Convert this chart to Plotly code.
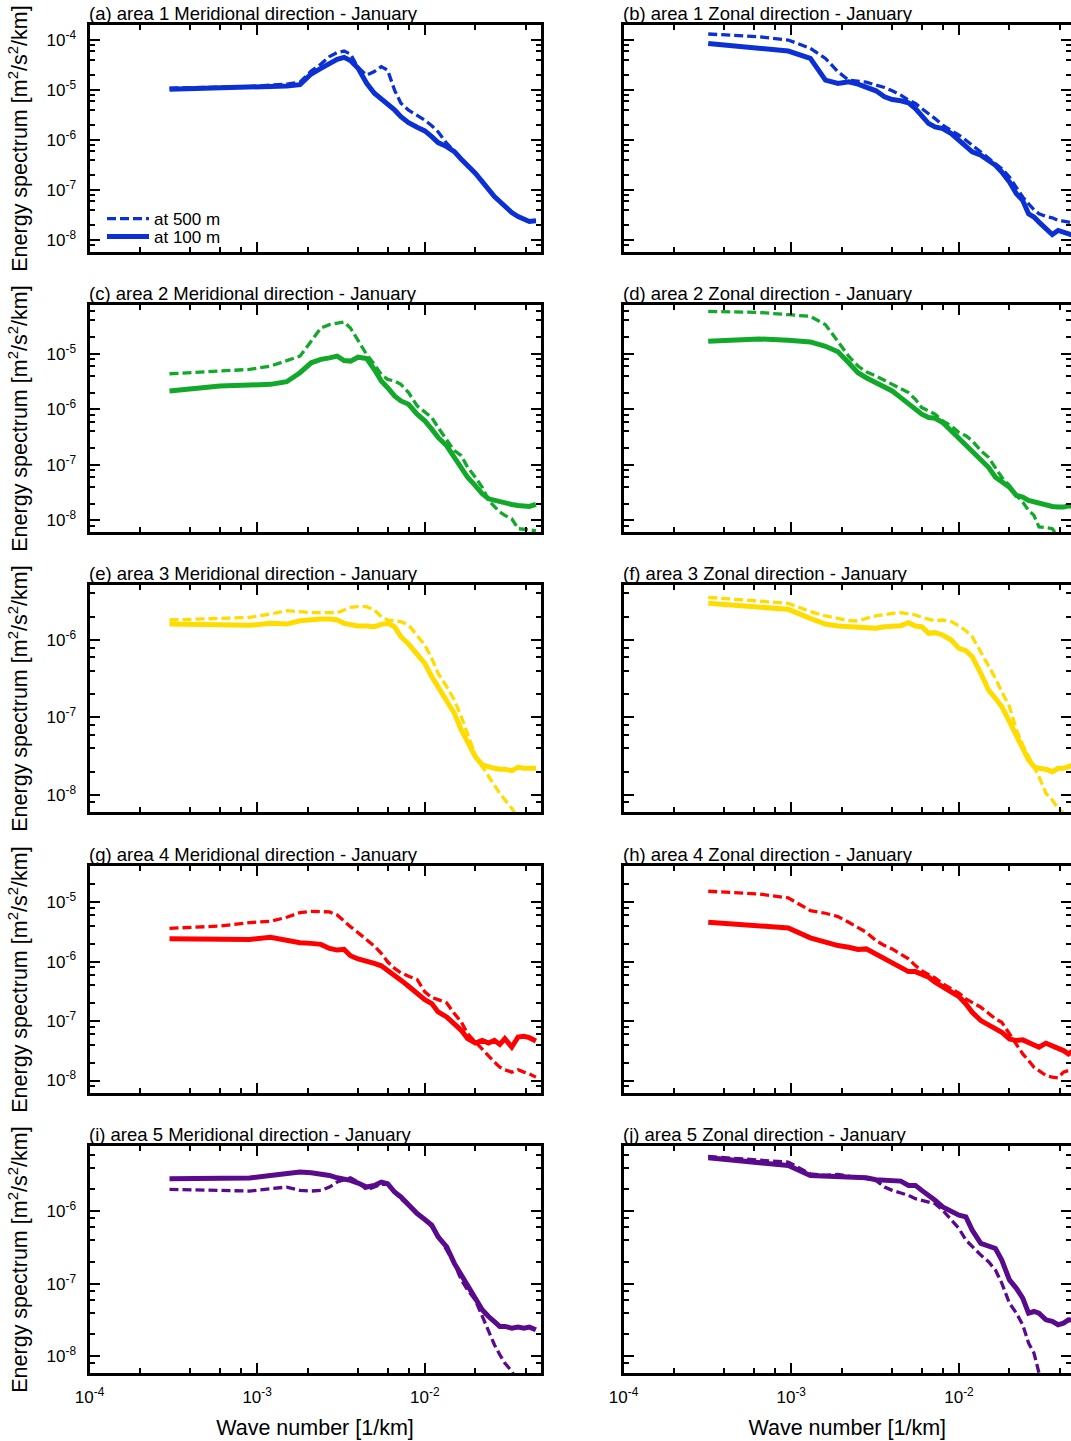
import plotly.graph_objects as go

# ---------------- data (wave number in 1/km, spectra stored as log10 of m^2/s^2/km) -------------
k_meridional = [3.0e-4, 6.0e-4, 9.0e-4, 1.2e-3, 1.5e-3, 1.8e-3, 2.1e-3, 2.4e-3, 2.7e-3, 3.0e-3,
                3.3e-3, 3.6e-3, 4.0e-3, 4.5e-3, 5.0e-3, 5.5e-3, 6.0e-3, 6.6e-3, 7.2e-3, 8.0e-3,
                9.0e-3, 1.0e-2, 1.1e-2, 1.2e-2, 1.35e-2, 1.5e-2, 1.65e-2, 1.8e-2, 2.0e-2, 2.2e-2,
                2.4e-2, 2.6e-2, 2.8e-2, 3.0e-2, 3.3e-2, 3.6e-2, 3.9e-2, 4.2e-2, 4.6e-2]
k_zonal = [3.2e-4, 6.4e-4, 9.6e-4, 1.3e-3, 1.6e-3, 1.9e-3, 2.2e-3, 2.5e-3, 2.8e-3, 3.2e-3,
           3.6e-3, 4.0e-3, 4.5e-3, 5.0e-3, 5.5e-3, 6.0e-3, 6.6e-3, 7.2e-3, 8.0e-3, 9.0e-3,
           1.0e-2, 1.1e-2, 1.2e-2, 1.35e-2, 1.5e-2, 1.65e-2, 1.8e-2, 2.0e-2, 2.2e-2, 2.4e-2,
           2.6e-2, 2.8e-2, 3.0e-2, 3.3e-2, 3.6e-2, 3.9e-2, 4.2e-2, 4.5e-2, 4.8e-2]

# (a) area 1 meridional
a_500 = [-4.96, -4.95, -4.93, -4.90, -4.88, -4.84, -4.62, -4.48, -4.33, -4.25,
         -4.22, -4.28, -4.55, -4.70, -4.63, -4.53, -4.60, -5.00, -5.26, -5.40,
         -5.51, -5.60, -5.71, -5.83, -6.06, -6.22, -6.37, -6.48, -6.65, -6.82,
         -6.98, -7.12, -7.22, -7.32, -7.44, -7.52, -7.58, -7.62, -7.60]
a_100 = [-4.983, -4.963, -4.943, -4.930, -4.917, -4.890, -4.678, -4.565, -4.465, -4.385,
         -4.345, -4.410, -4.565, -4.864, -5.063, -5.183, -5.262, -5.395, -5.528, -5.648,
         -5.741, -5.814, -5.927, -6.047, -6.126, -6.226, -6.379, -6.492, -6.658, -6.824,
         -6.990, -7.123, -7.223, -7.322, -7.442, -7.522, -7.575, -7.621, -7.608]
# (b) area 1 zonal
b_500 = [-3.880, -3.933, -4.000, -4.167, -4.367, -4.633, -4.800, -4.820, -4.840, -4.900,
         -4.947, -5.013, -5.100, -5.200, -5.267, -5.367, -5.467, -5.567, -5.700, -5.800,
         -5.900, -6.000, -6.100, -6.233, -6.367, -6.467, -6.567, -6.733, -6.933, -7.133,
         -7.267, -7.387, -7.467, -7.520, -7.547, -7.600, -7.613, -7.633, -7.653]
b_100 = [-4.067, -4.153, -4.220, -4.367, -4.800, -4.867, -4.833, -4.880, -4.933, -5.013,
         -5.133, -5.187, -5.213, -5.253, -5.367, -5.500, -5.667, -5.733, -5.767, -5.867,
         -6.000, -6.133, -6.233, -6.300, -6.413, -6.500, -6.633, -6.833, -7.067, -7.200,
         -7.467, -7.533, -7.633, -7.767, -7.880, -7.800, -7.833, -7.867, -7.900]
# (c) area 2 meridional
c_500 = [-5.359, -5.311, -5.281, -5.221, -5.131, -5.042, -4.773, -4.534, -4.474, -4.456,
         -4.426, -4.534, -4.773, -5.012, -5.191, -5.371, -5.460, -5.490, -5.550, -5.699,
         -5.938, -6.058, -6.148, -6.327, -6.536, -6.745, -6.835, -7.044, -7.224, -7.403,
         -7.642, -7.761, -7.851, -7.911, -7.971, -8.150, -8.168, -8.170, -8.190]
c_100 = [-5.669, -5.580, -5.562, -5.550, -5.502, -5.340, -5.161, -5.100, -5.072, -5.042,
         -5.120, -5.131, -5.060, -5.084, -5.281, -5.490, -5.610, -5.759, -5.849, -5.909,
         -6.088, -6.207, -6.357, -6.506, -6.656, -6.865, -7.074, -7.224, -7.373, -7.522,
         -7.612, -7.642, -7.672, -7.690, -7.714, -7.732, -7.732, -7.750, -7.714]
# (d) area 2 zonal
d_500 = [-4.235, -4.253, -4.295, -4.325, -4.474, -4.773, -5.042, -5.221, -5.323, -5.400,
         -5.478, -5.550, -5.640, -5.699, -5.819, -5.968, -6.028, -6.088, -6.207, -6.297,
         -6.417, -6.476, -6.566, -6.745, -6.865, -7.044, -7.224, -7.373, -7.552, -7.672,
         -7.821, -7.911, -8.120, -8.132, -8.150, -8.300, -8.420, -8.550, -8.600]
d_100 = [-4.773, -4.731, -4.755, -4.785, -4.863, -4.964, -5.161, -5.341, -5.430, -5.520,
         -5.580, -5.669, -5.789, -5.909, -5.998, -6.088, -6.148, -6.160, -6.237, -6.387,
         -6.506, -6.626, -6.745, -6.895, -7.044, -7.224, -7.313, -7.403, -7.552, -7.582,
         -7.642, -7.672, -7.690, -7.732, -7.750, -7.761, -7.761, -7.738, -7.750]
# (e) area 3 meridional
e_500 = [-5.742, -5.720, -5.708, -5.665, -5.622, -5.634, -5.647, -5.647, -5.647, -5.647,
         -5.613, -5.578, -5.570, -5.570, -5.613, -5.699, -5.742, -5.751, -5.763, -5.806,
         -5.935, -6.065, -6.237, -6.430, -6.602, -6.774, -6.989, -7.204, -7.484, -7.634,
         -7.760, -7.890, -7.980, -8.060, -8.172, -8.300, -8.450, -8.600, -8.750]
e_100 = [-5.794, -5.798, -5.811, -5.785, -5.794, -5.751, -5.733, -5.729, -5.729, -5.742,
         -5.785, -5.806, -5.819, -5.819, -5.828, -5.798, -5.785, -5.828, -5.957, -6.052,
         -6.172, -6.301, -6.473, -6.602, -6.774, -6.946, -7.161, -7.333, -7.505, -7.613,
         -7.643, -7.656, -7.669, -7.669, -7.686, -7.643, -7.656, -7.656, -7.656]
# (f) area 3 zonal
f_500 = [-5.449, -5.492, -5.527, -5.634, -5.690, -5.720, -5.751, -5.755, -5.720, -5.690,
         -5.669, -5.656, -5.647, -5.664, -5.677, -5.708, -5.733, -5.751, -5.742, -5.763,
         -5.819, -5.880, -5.957, -6.151, -6.344, -6.495, -6.667, -6.860, -7.161, -7.355,
         -7.505, -7.634, -7.763, -7.978, -8.065, -8.172, -8.237, -8.400, -8.550]
f_100 = [-5.527, -5.570, -5.604, -5.720, -5.794, -5.819, -5.828, -5.837, -5.849, -5.849,
         -5.828, -5.819, -5.815, -5.776, -5.819, -5.828, -5.914, -5.905, -5.935, -6.000,
         -6.108, -6.138, -6.215, -6.430, -6.645, -6.753, -6.860, -7.054, -7.247, -7.398,
         -7.548, -7.634, -7.656, -7.669, -7.699, -7.656, -7.656, -7.634, -7.613]
# (g) area 4 meridional
g_500 = [-5.439, -5.400, -5.343, -5.321, -5.253, -5.174, -5.152, -5.158, -5.163, -5.214,
         -5.326, -5.411, -5.512, -5.636, -5.737, -5.861, -6.002, -6.114, -6.187, -6.244,
         -6.300, -6.508, -6.604, -6.638, -6.694, -6.874, -7.015, -7.212, -7.352, -7.465,
         -7.594, -7.690, -7.774, -7.819, -7.859, -7.819, -7.859, -7.887, -7.943]
g_100 = [-5.613, -5.625, -5.625, -5.591, -5.640, -5.680, -5.692, -5.709, -5.777, -5.805,
         -5.793, -5.899, -5.955, -5.984, -6.029, -6.069, -6.142, -6.238, -6.311, -6.413,
         -6.536, -6.638, -6.705, -6.846, -6.930, -7.043, -7.155, -7.296, -7.369, -7.324,
         -7.369, -7.324, -7.392, -7.296, -7.437, -7.268, -7.257, -7.279, -7.335]
# (h) area 4 zonal
h_500 = [-4.815, -4.860, -4.927, -5.140, -5.185, -5.241, -5.337, -5.432, -5.505, -5.645,
         -5.729, -5.785, -5.869, -5.953, -6.066, -6.150, -6.217, -6.273, -6.374, -6.458,
         -6.531, -6.626, -6.683, -6.767, -6.868, -6.964, -7.019, -7.215, -7.395, -7.552,
         -7.664, -7.776, -7.832, -7.916, -7.944, -7.956, -7.860, -7.832, -7.850]
h_100 = [-5.337, -5.393, -5.432, -5.600, -5.673, -5.729, -5.757, -5.796, -5.785, -5.869,
         -5.937, -6.010, -6.094, -6.167, -6.167, -6.206, -6.262, -6.346, -6.430, -6.514,
         -6.587, -6.711, -6.851, -6.991, -7.058, -7.114, -7.187, -7.300, -7.328, -7.316,
         -7.356, -7.412, -7.440, -7.372, -7.412, -7.440, -7.496, -7.552, -7.500]
# (i) area 5 meridional
i_500 = [-5.698, -5.712, -5.721, -5.689, -5.666, -5.712, -5.721, -5.712, -5.666, -5.597,
         -5.565, -5.538, -5.597, -5.703, -5.666, -5.629, -5.629, -5.735, -5.826, -5.918,
         -6.032, -6.114, -6.215, -6.330, -6.535, -6.719, -6.947, -7.085, -7.222, -7.451,
         -7.634, -7.840, -7.977, -8.092, -8.206, -8.350, -8.500, -8.650, -8.800]
i_100 = [-5.551, -5.551, -5.542, -5.506, -5.474, -5.460, -5.469, -5.483, -5.506, -5.538,
         -5.551, -5.574, -5.611, -5.666, -5.643, -5.597, -5.620, -5.735, -5.803, -5.918,
         -6.032, -6.114, -6.192, -6.352, -6.490, -6.719, -6.879, -7.037, -7.220, -7.357,
         -7.451, -7.519, -7.588, -7.588, -7.611, -7.597, -7.611, -7.597, -7.634]
# (j) area 5 zonal
j_500 = [-5.245, -5.290, -5.323, -5.483, -5.506, -5.492, -5.519, -5.538, -5.551, -5.574,
         -5.666, -5.712, -5.748, -5.780, -5.826, -5.849, -5.872, -5.895, -5.986, -6.124,
         -6.238, -6.398, -6.490, -6.604, -6.696, -6.810, -6.991, -7.268, -7.405, -7.565,
         -7.817, -7.954, -8.229, -8.500, -8.800, -9.100, -9.400, -9.700, -10.000]
j_100 = [-5.263, -5.323, -5.368, -5.506, -5.519, -5.529, -5.538, -5.538, -5.538, -5.565,
         -5.574, -5.565, -5.584, -5.643, -5.643, -5.712, -5.780, -5.849, -5.941, -6.009,
         -6.055, -6.078, -6.261, -6.444, -6.490, -6.513, -6.673, -6.947, -7.062, -7.197,
         -7.405, -7.382, -7.405, -7.497, -7.519, -7.565, -7.542, -7.497, -7.500]

panel_titles = ["(a) area 1 Meridional direction - January", "(b) area 1 Zonal direction - January",
                "(c) area 2 Meridional direction - January", "(d) area 2 Zonal direction - January",
                "(e) area 3 Meridional direction - January", "(f) area 3 Zonal direction - January",
                "(g) area 4 Meridional direction - January", "(h) area 4 Zonal direction - January",
                "(i) area 5 Meridional direction - January", "(j) area 5 Zonal direction - January"]
series_500 = [a_500, b_500, c_500, d_500, e_500, f_500, g_500, h_500, i_500, j_500]
series_100 = [a_100, b_100, c_100, d_100, e_100, f_100, g_100, h_100, i_100, j_100]
area_colors = ["#0b30d4", "#12a82a", "#ffdc00", "#ff0000", "#5a0a8c"]
legend_names = ["at 500 m", "at 100 m"]

x_tickvals = [1e-4, 1e-3, 1e-2]
x_ticktext = ["10<sup>-4</sup>", "10<sup>-3</sup>", "10<sup>-2</sup>"]
y_tickvals = [1e-8, 1e-7, 1e-6, 1e-5, 1e-4]
y_ticktext = ["10<sup>-8</sup>", "10<sup>-7</sup>", "10<sup>-6</sup>", "10<sup>-5</sup>", "10<sup>-4</sup>"]
x_minor = [m * 10.0 ** e for e in (-4, -3, -2) for m in (2, 4, 6, 8)]
y_minor = [m * 10.0 ** e for e in (-9, -8, -7, -6, -5, -4) for m in (2, 4, 6, 8)]
y_ranges_log = [(-8.23, -3.70), (-8.21, -4.12), (-8.22, -5.29), (-8.21, -4.39), (-8.23, -5.10)]

# ---------------- layout geometry (pixels) ----------------
W, H = 1071, 1441
col_px = [(89.5, 540.5), (623.5, 1071.0)]
x_ranges_log = [(-4.0, -1.31), (-4.0, -1.332)]
row_tops = [25, 305, 585, 866, 1146]
panel_h = 227
FONT = "Liberation Sans, Arial, Helvetica, sans-serif"

fig = go.Figure()
layout = {}
annotations = []

for p in range(10):
    row, col = divmod(p, 2)
    n = p + 1
    xs = k_meridional if col == 0 else k_zonal
    color = area_colors[row]
    show_leg = (p == 0)
    fig.add_trace(go.Scatter(
        x=xs, y=[10.0 ** v for v in series_500[p]], mode="lines",
        line=dict(color=color, width=3.3, dash="9px,4px"),
        name=legend_names[0], showlegend=show_leg, legend="legend",
        xaxis="x" if n == 1 else f"x{n}", yaxis="y" if n == 1 else f"y{n}"))
    fig.add_trace(go.Scatter(
        x=xs, y=[10.0 ** v for v in series_100[p]], mode="lines",
        line=dict(color=color, width=5),
        name=legend_names[1], showlegend=show_leg, legend="legend2",
        xaxis="x" if n == 1 else f"x{n}", yaxis="y" if n == 1 else f"y{n}"))

    x0, x1 = col_px[col]
    top = row_tops[row]
    bot = top + panel_h
    xkey = "xaxis" if n == 1 else f"xaxis{n}"
    ykey = "yaxis" if n == 1 else f"yaxis{n}"
    common = dict(type="log", showline=True, linewidth=3, linecolor="black", mirror="ticks",
                  ticks="inside", ticklen=10, tickwidth=2, tickcolor="black", automargin=False,
                  showgrid=False, zeroline=False, tickmode="array",
                  tickfont=dict(family=FONT, size=17, color="black"), ticklabelstandoff=7)
    layout[xkey] = dict(common, domain=[x0 / W, x1 / W], range=list(x_ranges_log[col]),
                        anchor="y" if n == 1 else f"y{n}",
                        tickvals=x_tickvals, ticktext=x_ticktext,
                        showticklabels=(row == 4),
                        minor=dict(tickvals=x_minor, ticks="inside", ticklen=5, tickwidth=1.5,
                                   tickcolor="black", showgrid=False))
    if row == 4:
        layout[xkey]["title"] = dict(text="Wave number [1/km]", standoff=14,
                                     font=dict(family=FONT, size=21.5, color="black"))
    layout[ykey] = dict(common, domain=[1 - bot / H, 1 - top / H], range=list(y_ranges_log[row]),
                        anchor="x" if n == 1 else f"x{n}",
                        tickvals=y_tickvals, ticktext=y_ticktext,
                        showticklabels=(col == 0),
                        minor=dict(tickvals=y_minor, ticks="inside", ticklen=5, tickwidth=1.5,
                                   tickcolor="black", showgrid=False))
    if col == 0:
        layout[ykey]["title"] = dict(text="Energy spectrum [m<sup>2</sup>/s<sup>2</sup>/km]",
                                     standoff=14, font=dict(family=FONT, size=21.5, color="black"))
    annotations.append(dict(text=panel_titles[p], xref="paper", yref="paper",
                            x=(x0 - 2.5) / W, y=1 - (top + 1) / H, xanchor="left", yanchor="bottom",
                            showarrow=False, font=dict(family=FONT, size=18.5, color="black")))

leg_common = dict(xanchor="left", yanchor="middle", bgcolor="rgba(0,0,0,0)", borderwidth=0,
                  itemwidth=42, font=dict(family=FONT, size=17, color="black"))

fig.update_layout(
    width=W, height=H, margin=dict(l=0, r=0, t=0, b=0, autoexpand=False),
    paper_bgcolor="white", plot_bgcolor="white",
    font=dict(family=FONT, color="black"),
    annotations=annotations,
    legend=dict(leg_common, x=102 / W, y=1 - 219 / H),
    legend2=dict(leg_common, x=102 / W, y=1 - 237 / H),
    **layout)

fig.write_html("out.html")
